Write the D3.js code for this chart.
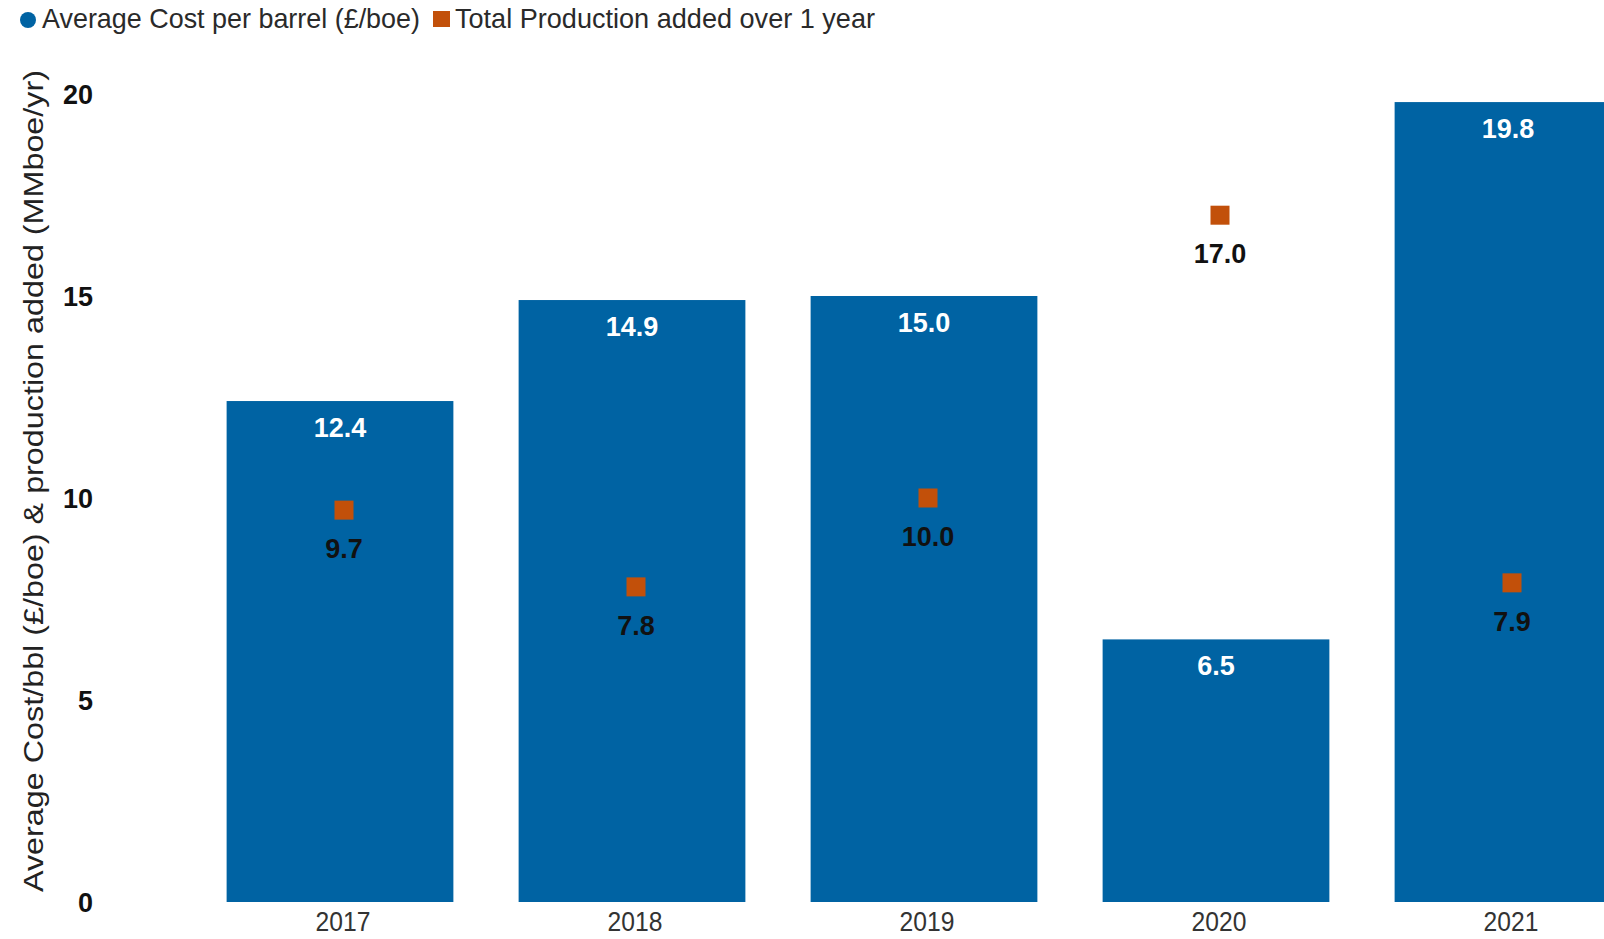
<!DOCTYPE html>
<html>
<head>
<meta charset="utf-8">
<script src="https://cdn.jsdelivr.net/npm/d3@7"></script>
<style>
  html, body { margin: 0; padding: 0; background: #ffffff; }
  svg { display: block; font-family: "Liberation Sans", Arial, sans-serif; }
</style>
</head>
<body>
<svg id="chart" width="1604" height="939"></svg>
<script>
// Years on the category axis
const years = ["2017", "2018", "2019", "2020", "2021"];
// Average cost per barrel (£/boe) – drawn as bars
const avgCost = [12.4, 14.9, 15.0, 6.5, 19.8];
// Total production added over 1 year (MMboe/yr) – drawn as square markers
const prodAdded = [9.7, 7.8, 10.0, 17.0, 7.9];
// Value-axis ticks
const yTicks = [0, 5, 10, 15, 20];

const legendLabels = ["Average Cost per barrel (£/boe)", "Total Production added over 1 year"];
const yTitle = "Average Cost/bbl (£/boe) & production added (MMboe/yr)";

const BLUE = "#0063a3";
const ORANGE = "#c2500a";

const svg = d3.select("#chart");

const x = d3.scaleBand()
  .domain(years)
  .range([194, 1654])
  .paddingInner(0.2234)
  .paddingOuter(0.1117);

const y = d3.scaleLinear()
  .domain([0, 20])
  .range([902, 94]);

// Bars
svg.append("g")
  .selectAll("rect")
  .data(years.map((yr, i) => ({ yr, v: avgCost[i] })))
  .join("rect")
  .attr("x", d => x(d.yr))
  .attr("y", d => y(d.v))
  .attr("width", x.bandwidth())
  .attr("height", d => y(0) - y(d.v))
  .attr("fill", BLUE);

// Bar value labels
svg.append("g")
  .selectAll("text")
  .data(years.map((yr, i) => ({ yr, v: avgCost[i] })))
  .join("text")
  .attr("x", d => x(d.yr) + x.bandwidth() / 2)
  .attr("y", d => y(d.v) + 36)
  .attr("text-anchor", "middle")
  .attr("fill", "#ffffff")
  .attr("font-weight", "bold")
  .attr("font-size", 27)
  .text(d => d3.format(".1f")(d.v));

// Production markers
const px = yr => x(yr) + x.bandwidth() / 2 + 4;
const sq = 19;
svg.append("g")
  .selectAll("rect")
  .data(years.map((yr, i) => ({ yr, v: prodAdded[i] })))
  .join("rect")
  .attr("x", d => px(d.yr) - sq / 2)
  .attr("y", d => y(d.v) - sq / 2)
  .attr("width", sq)
  .attr("height", sq)
  .attr("fill", ORANGE);

svg.append("g")
  .selectAll("text")
  .data(years.map((yr, i) => ({ yr, v: prodAdded[i] })))
  .join("text")
  .attr("x", d => px(d.yr))
  .attr("y", d => y(d.v) + 48)
  .attr("text-anchor", "middle")
  .attr("fill", "#111111")
  .attr("font-weight", "bold")
  .attr("font-size", 27)
  .text(d => d3.format(".1f")(d.v));

// Y axis (labels only)
const yAxis = d3.axisLeft(y).tickValues(yTicks).tickSize(0).tickPadding(0);
const yG = svg.append("g").attr("transform", "translate(93,0)").call(yAxis);
yG.select(".domain").remove();
yG.selectAll("text")
  .attr("font-family", "'Liberation Sans', Arial, sans-serif")
  .attr("font-size", 27)
  .attr("font-weight", "bold")
  .attr("fill", "#111111")
  .attr("dy", "0.36em");

// X axis (labels only)
const xAxis = d3.axisBottom(x).tickSize(0).tickPadding(0);
const xG = svg.append("g").attr("transform", "translate(3,0)").call(xAxis);
xG.select(".domain").remove();
xG.selectAll(".tick text")
  .attr("font-family", "'Liberation Sans', Arial, sans-serif")
  .attr("font-size", 28)
  .attr("fill", "#333333")
  .attr("dy", 0)
  .attr("y", 0)
  .attr("transform", "translate(0,931) scale(0.88,1)");

// Y axis title
svg.append("text")
  .attr("transform", "translate(43,481) rotate(-90)")
  .attr("text-anchor", "middle")
  .attr("font-size", 28.5)
  .attr("fill", "#222222")
  .attr("textLength", 822)
  .attr("lengthAdjust", "spacingAndGlyphs")
  .text(yTitle);

// Legend
const lg = svg.append("g");
lg.append("circle").attr("cx", 28).attr("cy", 20).attr("r", 8).attr("fill", BLUE);
lg.append("text").attr("x", 42).attr("y", 28).attr("font-size", 27.5).attr("fill", "#2a2a2a")
  .attr("textLength", 378).attr("lengthAdjust", "spacingAndGlyphs")
  .text(legendLabels[0]);
lg.append("rect").attr("x", 433).attr("y", 11).attr("width", 17).attr("height", 16).attr("fill", ORANGE);
lg.append("text").attr("x", 455).attr("y", 28).attr("font-size", 27.5).attr("fill", "#2a2a2a")
  .attr("textLength", 420).attr("lengthAdjust", "spacingAndGlyphs")
  .text(legendLabels[1]);
</script>
</body>
</html>
